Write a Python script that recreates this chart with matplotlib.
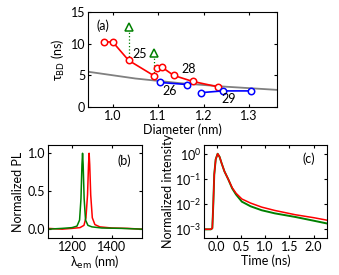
import matplotlib
matplotlib.use('Agg')
import matplotlib.pyplot as plt
from matplotlib.ticker import NullLocator

plt.rcParams['font.family'] = ['Lato', 'DejaVu Sans']
plt.rcParams['font.size'] = 9
plt.rcParams['axes.linewidth'] = 0.8
plt.rcParams['mathtext.default'] = 'regular'

# panel (a): tau_BD vs diameter
red25_d = [0.981, 1.000, 1.035, 1.091]
red25_t = [10.28, 10.28, 7.37, 4.93]
red28_d = [1.098, 1.109, 1.134, 1.176, 1.232]
red28_t = [6.1, 6.26, 4.99, 4.04, 3.18]
blue26_d = [1.105, 1.164]
blue26_t = [3.87, 3.55]
blue29_d = [1.195, 1.242, 1.305]
blue29_t = [2.27, 2.54, 2.54]
tri_d = [1.035, 1.091]
tri_t = [12.6, 8.5]
tri_base = [7.37, 4.93]
fit_d = [0.946, 1.05, 1.15, 1.25, 1.362]
fit_t = [5.57, 4.5, 3.75, 3.2, 2.7]
family_labels = ['25', '28', '26', '29']
family_pos = [(1.060, 8.33), (1.167, 5.95), (1.126, 2.5), (1.254, 1.22)]

# panel (b): PL spectra
pl_green_x = [1080, 1150, 1200, 1225, 1238, 1245, 1250, 1253, 1256, 1261, 1268, 1280, 1300, 1350, 1450, 1550]
pl_green_y = [0.0, 0.01, 0.02, 0.04, 0.12, 0.4, 0.85, 1.0, 0.85, 0.4, 0.12, 0.05, 0.03, 0.015, 0.01, 0.0]
pl_red_x = [1080, 1150, 1200, 1240, 1260, 1270, 1278, 1283, 1286, 1289, 1294, 1302, 1315, 1340, 1400, 1480, 1550]
pl_red_y = [0.01, 0.0, 0.01, 0.02, 0.05, 0.15, 0.45, 0.85, 1.0, 0.85, 0.45, 0.15, 0.06, 0.03, 0.015, 0.01, 0.0]

# panel (c): PL decay
time_ns = [-0.26, -0.12, -0.09, -0.07, -0.05, -0.02, 0.02, 0.06, 0.1, 0.16, 0.24, 0.32,
           0.4, 0.52, 0.7, 0.93, 1.2, 1.62, 2.0, 2.28]
decay_red = [1e-3, 1e-3, 1.1e-3, 0.01, 0.15, 0.6, 1.0, 0.75, 0.43, 0.2, 0.096, 0.045,
             0.027, 0.016, 0.011, 0.0076, 0.0056, 0.0038, 0.0029, 0.0023]
decay_green = [1e-3, 1e-3, 1.1e-3, 0.01, 0.15, 0.6, 1.0, 0.75, 0.43, 0.2, 0.096, 0.042,
               0.024, 0.0125, 0.0082, 0.0057, 0.0043, 0.0031, 0.0022, 0.0017]
decay_ticks = [1e-3, 1e-2, 1e-1, 1e0]

RED = '#ff0000'
BLUE = '#0000ff'
GREEN = '#008000'

fig = plt.figure(figsize=(3.39, 2.75), dpi=100)
ax_a = fig.add_axes([0.260, 0.611, 0.558, 0.345])
ax_b = fig.add_axes([0.142, 0.135, 0.277, 0.338])
ax_c = fig.add_axes([0.602, 0.135, 0.363, 0.338])

for ax in (ax_a, ax_b, ax_c):
    ax.tick_params(direction='in', top=True, right=True, length=2.5, width=0.8, pad=2)

mk = dict(marker='o', mfc='white', ms=4.6, mew=1.1, lw=1.2)
ax_a.plot(fit_d, fit_t, color='#808080', lw=1.3, zorder=1)
ax_a.plot(red25_d, red25_t, color=RED, **mk)
ax_a.plot(red28_d, red28_t, color=RED, **mk)
ax_a.plot(blue26_d, blue26_t, color=BLUE, **mk)
ax_a.plot(blue29_d, blue29_t, color=BLUE, **mk)
for d, t0, t1 in zip(tri_d, tri_base, tri_t):
    ax_a.plot([d, d], [t0, t1], color=GREEN, ls=':', lw=0.9, zorder=1)
ax_a.plot(tri_d, tri_t, ls='none', marker='^', mfc='white', mec=GREEN, ms=5.2, mew=1.1)
for lab, (x, y) in zip(family_labels, family_pos):
    ax_a.text(x, y, lab, ha='center', va='center')
ax_a.text(0.077, 0.856, '(a)', transform=ax_a.transAxes, ha='center', va='center')
ax_a.set_xlim(0.946, 1.362)
ax_a.set_ylim(0, 15)
ax_a.set_xticks([1.0, 1.1, 1.2, 1.3])
ax_a.set_yticks([0, 5, 10, 15])
ax_a.set_xlabel('Diameter (nm)', labelpad=1)
ax_a.set_ylabel(r'τ$_{\rm BD}$ (ns)', labelpad=3)

ax_b.plot(pl_red_x, pl_red_y, color=RED, lw=1.1)
ax_b.plot(pl_green_x, pl_green_y, color=GREEN, lw=1.1)
ax_b.set_xlim(1080, 1552)
ax_b.set_ylim(-0.115, 1.11)
ax_b.set_xticks([1200, 1400])
ax_b.set_yticks([0.0, 0.5, 1.0])
ax_b.set_xlabel(r'$\lambda_{\rm em}$ (nm)', labelpad=1)
ax_b.set_ylabel('Normalized PL', labelpad=3)
ax_b.text(0.81, 0.83, '(b)', transform=ax_b.transAxes, ha='center', va='center')

ax_c.semilogy(time_ns, decay_green, color=GREEN, lw=1.4)
ax_c.semilogy(time_ns, decay_red, color=RED, lw=1.1)
ax_c.set_xlim(-0.26, 2.28)
ax_c.set_ylim(10 ** -3.34, 10 ** 0.35)
ax_c.set_xticks([0.0, 0.5, 1.0, 1.5, 2.0])
ax_c.set_yticks(decay_ticks)
ax_c.yaxis.set_minor_locator(NullLocator())
ax_c.set_xlabel('Time (ns)', labelpad=1)
ax_c.set_ylabel('Normalized intensity', labelpad=1)
ax_c.text(0.85, 0.85, '(c)', transform=ax_c.transAxes, ha='center', va='center')

fig.savefig('out.png', dpi=100)
